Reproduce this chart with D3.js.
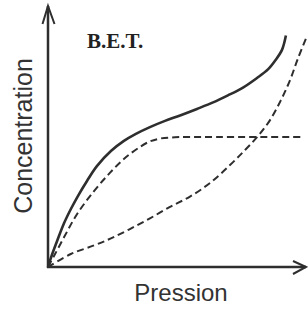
<!DOCTYPE html>
<html>
<head>
<meta charset="utf-8">
<script src="https://cdn.jsdelivr.net/npm/d3@7"></script>
<style>
  body { margin: 0; background: #fff; }
  svg { display: block; }
</style>
</head>
<body>
<div id="chart"></div>
<script>
var svgWidth = 308;
var svgHeight = 309;

// axis labels
var xLabel = "Pression";
var yLabel = "Concentration";
var title = "B.E.T.";

// curves: [pression, concentration] on a 0-100 scale
var betCurve = [
  [0, 0], [1.5, 4.6], [3.5, 10], [6.2, 16.9], [8.8, 22.3], [11.5, 27.3],
  [15, 33.1], [18.8, 38.8], [24.2, 44.6], [29.2, 48.5], [33.8, 51.2],
  [39.2, 53.8], [45, 56.2], [50.8, 58.3], [57.3, 60.8], [63.5, 63.3],
  [69.2, 66], [75, 69], [80.4, 72.7], [84.6, 76], [87.3, 79.3],
  [90, 83.5], [91.5, 89]
];
var monolayerCurve = [
  [0, 0], [2.3, 4.2], [6.2, 11.5], [11.2, 20.4], [17.7, 29.2], [23.8, 36.2],
  [29.6, 41.9], [35.4, 46.2], [39.2, 48.3], [43.1, 49.4], [48.8, 49.9],
  [54.6, 50], [97.7, 50]
];
var multilayerCurve = [
  [0, 0], [8.8, 5], [17.7, 8.3], [24.2, 11], [31.5, 14.6], [39.2, 18.7],
  [46.9, 23.1], [54.6, 27.1], [62.3, 32.3], [70, 39.2], [75.8, 45],
  [80.8, 50.4], [85.4, 56.5], [89.6, 64.2], [93.1, 71.9], [96.2, 80.4],
  [99.6, 88.8]
];

var origin = { x: 48, y: 267 };
var ink = "#2e2e2e";

var svg = d3.select("#chart")
  .append("svg")
  .attr("width", svgWidth)
  .attr("height", svgHeight);

var xScale = d3.scaleLinear().domain([0, 100]).range([origin.x, origin.x + 260]);
var yScale = d3.scaleLinear().domain([0, 100]).range([origin.y, origin.y - 260]);

var line = d3.line()
  .x(d => xScale(d[0]))
  .y(d => yScale(d[1]))
  .curve(d3.curveCatmullRom.alpha(0.5));

// axes with open arrow heads
svg.append("line")
  .attr("x1", origin.x).attr("y1", origin.y + 1)
  .attr("x2", origin.x).attr("y2", 6)
  .attr("stroke", ink).attr("stroke-width", 2.5);
svg.append("path")
  .attr("d", `M${origin.x - 5.5},24 L${origin.x},6 L${origin.x + 6.5},24`)
  .attr("fill", "none").attr("stroke", ink).attr("stroke-width", 2);

svg.append("line")
  .attr("x1", origin.x - 1).attr("y1", origin.y)
  .attr("x2", 306).attr("y2", origin.y)
  .attr("stroke", ink).attr("stroke-width", 2.5);
svg.append("path")
  .attr("d", `M293,${origin.y - 6} L306,${origin.y} L293,${origin.y + 7}`)
  .attr("fill", "none").attr("stroke", ink).attr("stroke-width", 2);

// curves
svg.append("path")
  .datum(betCurve)
  .attr("d", line)
  .attr("fill", "none").attr("stroke", ink).attr("stroke-width", 2.6);

[monolayerCurve, multilayerCurve].forEach(function(c) {
  svg.append("path")
    .datum(c)
    .attr("d", line)
    .attr("fill", "none").attr("stroke", ink)
    .attr("stroke-width", 2)
    .attr("stroke-dasharray", "7,4");
});

// labels
svg.append("text")
  .attr("x", 87).attr("y", 48)
  .attr("font-family", "Liberation Serif, serif")
  .attr("font-weight", "bold")
  .attr("font-size", "21px")
  .attr("fill", "#222")
  .text(title);

svg.append("text")
  .attr("x", 181).attr("y", 301)
  .attr("text-anchor", "middle")
  .attr("font-family", "Liberation Sans, Arial, sans-serif")
  .attr("font-size", "24px")
  .attr("fill", "#333")
  .text(xLabel);

svg.append("text")
  .attr("transform", "translate(32,136) rotate(-90)")
  .attr("text-anchor", "middle")
  .attr("font-family", "Liberation Sans, Arial, sans-serif")
  .attr("font-size", "25px")
  .attr("fill", "#333")
  .text(yLabel);
</script>
</body>
</html>
